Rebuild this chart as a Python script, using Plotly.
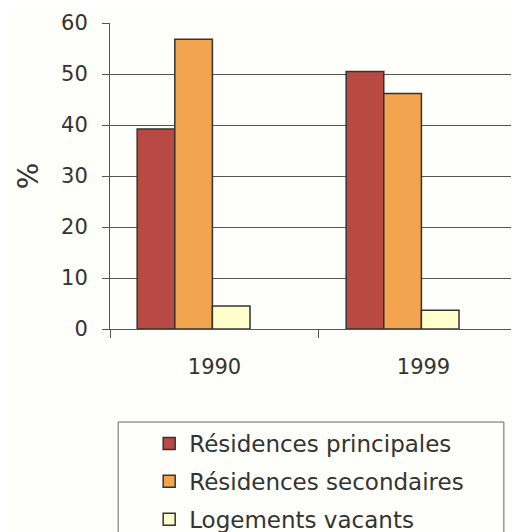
import plotly.graph_objects as go

annees = ['1990', '1999']
series = ['Résidences principales', 'Résidences secondaires', 'Logements vacants']
principales = [39.2, 50.5]
secondaires = [56.8, 46.2]
vacants = [4.5, 3.7]
y_ticks = [0, 10, 20, 30, 40, 50, 60]

couleurs = ['#b84a43', '#f2a44e', '#ffffcc']
decalages = [-0.37, -0.19, -0.01]

fig = go.Figure()
for nom, vals, col, off in zip(series, [principales, secondaires, vacants], couleurs, decalages):
    fig.add_trace(go.Bar(
        x=annees, y=vals, name=nom,
        marker=dict(color=col, line=dict(color='#333333', width=1.5)),
        offset=off, width=0.18,
        legendgroup=nom,
    ))

# cadre de la légende (plus large que le texte)
fig.add_shape(type='rect', xref='paper', yref='paper',
              x0=0.02, x1=0.963, y0=-0.304, y1=-0.75,
              line=dict(color='#666666', width=1), fillcolor='rgba(0,0,0,0)')

# la page html ajoute 8px de marge : figure réduite d'autant
fig.update_layout(
    width=511, height=524,
    margin=dict(l=102, r=0, t=15, b=203, autoexpand=False),
    paper_bgcolor='#fefefb', plot_bgcolor='#fefefb',
    font=dict(family='DejaVu Sans, sans-serif', color='#333333'),
    showlegend=True,
    legend=dict(
        x=0.02, y=-0.304, xanchor='left', yanchor='top',
        borderwidth=0, bgcolor='rgba(0,0,0,0)',
        font=dict(size=23, color='#333333'),
        tracegroupgap=5, indentation=31,
    ),
)

fig.update_xaxes(
    type='category', range=[-0.5, 1.457], automargin=False,
    showline=True, linecolor='#555555', linewidth=1,
    ticks='outside', ticklen=8, tickcolor='#555555', tickson='boundaries',
    tickfont=dict(size=21, color='#333333'), ticklabelstandoff=19,
    showgrid=False,
)
fig.update_yaxes(
    range=[0, 60], tickvals=y_ticks, automargin=False,
    showline=True, linecolor='#555555', linewidth=1,
    ticks='outside', ticklen=7, tickcolor='#555555',
    tickfont=dict(size=21, color='#333333'), ticklabelstandoff=10,
    showgrid=True, gridcolor='#555555', gridwidth=1,
    zeroline=False,
    title=dict(text='%', font=dict(size=28, color='#333333'), standoff=14),
)

fig.write_html('out.html')
